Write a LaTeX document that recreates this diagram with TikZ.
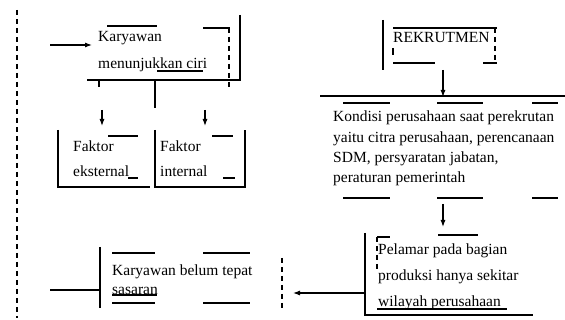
\documentclass[tikz,border=0pt]{standalone}
\usepackage{fontspec}
\setmainfont{Liberation Serif}
\usetikzlibrary{arrows.meta}
\begin{document}
\begin{tikzpicture}
  [x=1pt,y=-1pt,
   every node/.style={anchor=north west,inner sep=0pt,align=left},
   frag/.style={line width=1.2pt},
   dfrag/.style={line width=1.2pt,dash pattern=on 5pt off 4pt},
   arr/.style={line width=1.1pt,-{Latex[length=7pt,width=5pt]}}]
  \useasboundingbox (0,0) rectangle (565,320);

  % text boxes
  \node[font=\fontsize{15.5}{27}\selectfont] (k1) at (98,31) {Karyawan\\menunjukkan ciri};
  \node[font=\fontsize{15.5}{25}\selectfont] (fe) at (73,141) {Faktor\\eksternal};
  \node[font=\fontsize{15.5}{25}\selectfont] (fi) at (160,141) {Faktor\\internal};
  \node[font=\fontsize{15.5}{20}\selectfont] (rk) at (393,32) {REKRUTMEN};
  \node[font=\fontsize{15.5}{20.3}\selectfont] (kd) at (333,111)
    {Kondisi perusahaan saat perekrutan\\yaitu citra perusahaan, perencanaan\\SDM, persyaratan jabatan,\\peraturan pemerintah};
  \node[font=\fontsize{15.5}{26}\selectfont] (pl) at (378,244)
    {Pelamar pada bagian\\produksi hanya sekitar\\wilayah perusahaan};
  \node[font=\fontsize{15.5}{19}\selectfont] (kb) at (112,265) {Karyawan belum tepat\\sasaran};

  % connector ends
  \coordinate (in1) at (50,45);
  \coordinate (k1end) at (92,45);
  \coordinate (stemtop) at (155,80);
  \coordinate (stembot) at (155,108);
  \coordinate (fetop) at (102,110);
  \coordinate (fearr) at (102,126);
  \coordinate (fitop) at (205,110);
  \coordinate (fiarr) at (205,126);
  \coordinate (rkbot) at (443,70);
  \coordinate (kdtop) at (443,97);
  \coordinate (kdbot) at (443,204);
  \coordinate (pltop) at (443,227);
  \coordinate (plout) at (365,293);
  \coordinate (kbin) at (293,293);
  \coordinate (out1) at (50,290);
  \coordinate (kbleft) at (100,290);

  \draw[arr] (in1) -- (k1end);
  \draw[frag] (stemtop) -- (stembot);
  \draw[arr] (fetop) -- (fearr);
  \draw[arr] (fitop) -- (fiarr);
  \draw[arr] (rkbot) -- (kdtop);
  \draw[arr] (kdbot) -- (pltop);
  \draw[arr] (plout) -- (kbin);
  \draw[frag] (out1) -- (kbleft);

  % left dashed border
  \draw[dfrag] (17,10) -- (17,318);

  % box fragments: karyawan menunjukkan ciri
  \draw[frag] (107,26) -- (157,26);
  \draw[frag] (203,28) -- (230,28);
  \draw[frag] (157,71) -- (203,71);
  \draw[dfrag] (229,28) -- (229,88);
  \draw[frag] (240,15) -- (240,80) -- (87,80);
  \draw[frag] (99,80) -- (99,87);

  % faktor eksternal / internal
  \draw[frag] (58,130) -- (58,187) -- (150,187);
  \draw[frag] (108,136) -- (138,136);
  \draw[frag] (128,178) -- (138,178);
  \draw[frag] (155,130) -- (155,187) -- (245,187) -- (245,130);
  \draw[frag] (212,136) -- (233,136);
  \draw[frag] (223,178) -- (235,178);

  % rekrutmen
  \draw[frag] (383,20) -- (383,70);
  \draw[frag] (393,28) -- (497,28);
  \draw[dfrag] (495,28) -- (495,63);
  \draw[frag] (393,63) -- (435,63);
  \draw[frag] (483,63) -- (497,63);
  \draw[frag] (393,48) -- (393,55);

  % kondisi perusahaan
  \draw[frag] (320,96) -- (565,96);
  \foreach \xa/\xb in {343/390,437/483,532/558}
    {\draw[frag] (\xa,103) -- (\xb,103);
     \draw[frag] (\xa,198) -- (\xb,198);}

  % pelamar
  \draw[frag] (365,233) -- (365,315) -- (533,315);
  \draw[frag] (377,237) -- (390,237);
  \draw[frag] (438,235) -- (478,235);
  \draw[dfrag] (377,237) -- (377,270);
  \draw[frag] (377,309) -- (507,309);

  % karyawan belum tepat sasaran
  \draw[frag] (100,247) -- (100,308);
  \foreach \xa/\xb in {112/155,203/250}
    {\draw[frag] (\xa,253) -- (\xb,253);
     \draw[frag] (\xa,303) -- (\xb,303);}
  \draw[frag] (112,295) -- (157,295);
  \draw[dfrag] (282,258) -- (282,310);

\end{tikzpicture}
\end{document}
